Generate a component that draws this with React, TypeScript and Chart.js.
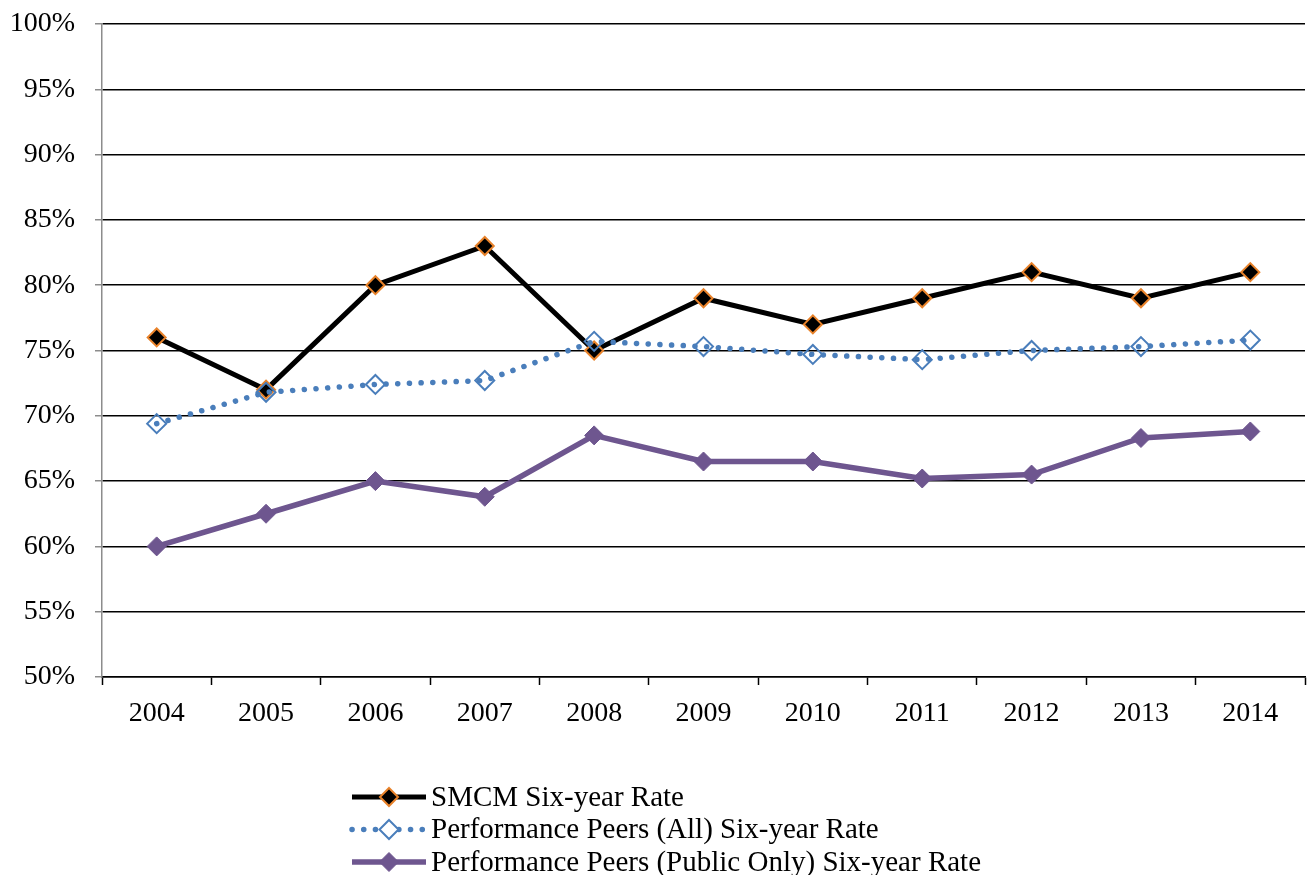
import React, { useEffect, useRef } from "react";
import { Chart, registerables } from "chart.js";

Chart.register(...registerables);

const years = ["2004", "2005", "2006", "2007", "2008", "2009", "2010", "2011", "2012", "2013", "2014"];
const smcmRate = [76, 72, 80, 83, 75, 79, 77, 79, 81, 79, 81];
const peersAllRate = [69.4, 71.8, 72.4, 72.7, 75.7, 75.3, 74.7, 74.3, 75.0, 75.3, 75.8];
const peersPublicRate = [60.0, 62.5, 65.0, 63.8, 68.5, 66.5, 66.5, 65.2, 65.5, 68.3, 68.8];

const FONT = "'Liberation Serif', 'Times New Roman', serif";
const BLUE = "#4A7EBB";
const ORANGE = "#E8822A";
const PURPLE = "#6E568F";

// Legend drawn beneath the plot: a line sample with its marker, then the label.
const lineLegend = {
  id: "lineLegend",
  afterDraw(chart: any) {
    const ctx = chart.ctx as CanvasRenderingContext2D;
    const x0 = 352;
    const sampleW = 74;
    const rowH = 32.5;
    const y0 = chart.chartArea.bottom + 120;
    ctx.save();
    ctx.font = `29px ${FONT}`;
    ctx.textBaseline = "middle";
    chart.data.datasets.forEach((ds: any, i: number) => {
      const y = y0 + i * rowH;
      ctx.save();
      ctx.strokeStyle = ds.borderColor;
      ctx.lineWidth = ds.borderWidth;
      ctx.lineCap = ds.borderCapStyle || "butt";
      ctx.setLineDash(ds.borderDash || []);
      ctx.beginPath();
      ctx.moveTo(x0, y);
      ctx.lineTo(x0 + sampleW, y);
      ctx.stroke();
      ctx.restore();
      const cx = x0 + sampleW / 2;
      const r = ds.pointRadius;
      ctx.beginPath();
      ctx.moveTo(cx, y - r);
      ctx.lineTo(cx + r, y);
      ctx.lineTo(cx, y + r);
      ctx.lineTo(cx - r, y);
      ctx.closePath();
      ctx.fillStyle =
        ds.pointBackgroundColor && ds.pointBackgroundColor !== "transparent"
          ? ds.pointBackgroundColor
          : "#ffffff";
      ctx.fill();
      ctx.lineWidth = ds.pointBorderWidth;
      ctx.strokeStyle = ds.pointBorderColor;
      ctx.stroke();
      ctx.fillStyle = "#000000";
      ctx.textAlign = "left";
      ctx.fillText(ds.label, x0 + sampleW + 5, y + 1);
    });
    ctx.restore();
  },
};

// Keep tick-label overhang from widening the margins around the plot.
const noLabelPadding = (scale: any) => {
  scale.paddingTop = 0;
  scale.paddingBottom = 0;
  scale.paddingLeft = 0;
  scale.paddingRight = 0;
};

export default function App() {
  const canvasRef = useRef<HTMLCanvasElement | null>(null);

  useEffect(() => {
    document.body.style.margin = "0";
    const canvas = canvasRef.current;
    if (!canvas) return;
    const chart = new Chart(canvas, {
      type: "line",
      data: {
        labels: years,
        datasets: [
          {
            label: "SMCM Six-year Rate",
            data: smcmRate,
            borderColor: "#000000",
            borderWidth: 5,
            pointStyle: "rectRot",
            pointRadius: 9,
            pointBackgroundColor: "#000000",
            pointBorderColor: ORANGE,
            pointBorderWidth: 2,
            tension: 0,
            order: 1,
          },
          {
            label: "Performance Peers (All) Six-year Rate",
            data: peersAllRate,
            borderColor: BLUE,
            borderWidth: 5.5,
            borderDash: [0.1, 11.6],
            borderCapStyle: "round",
            pointStyle: "rectRot",
            pointRadius: 9.5,
            pointBackgroundColor: "transparent",
            pointBorderColor: BLUE,
            pointBorderWidth: 2,
            tension: 0,
            order: 0,
          },
          {
            label: "Performance Peers (Public Only) Six-year Rate",
            data: peersPublicRate,
            borderColor: PURPLE,
            borderWidth: 5.5,
            pointStyle: "rectRot",
            pointRadius: 9.5,
            pointBackgroundColor: PURPLE,
            pointBorderColor: PURPLE,
            pointBorderWidth: 1,
            tension: 0,
            order: 2,
          },
        ],
      },
      options: {
        animation: false,
        responsive: false,
        layout: { autoPadding: false, padding: { top: 24, right: 2, left: 0, bottom: 0 } },
        plugins: {
          legend: { display: false },
          tooltip: { enabled: false },
        },
        scales: {
          x: {
            offset: true,
            grid: {
              offset: true,
              drawOnChartArea: false,
              drawTicks: true,
              tickLength: 8,
              tickColor: "#000000",
              tickWidth: 1.5,
            },
            border: { color: "#000000", width: 1.5 },
            ticks: {
              color: "#000000",
              font: { family: FONT, size: 28 },
              padding: 12,
              maxRotation: 0,
            },
            afterFit(scale: any) {
              scale.height = 198;
              noLabelPadding(scale);
            },
          },
          y: {
            min: 50,
            max: 100,
            grid: {
              color: "#000000",
              lineWidth: 1.5,
              tickLength: 7,
              tickColor: "#8C8C8C",
              tickWidth: 1.5,
            },
            border: { color: "#8C8C8C", width: 1.5 },
            ticks: {
              stepSize: 5,
              color: "#000000",
              font: { family: FONT, size: 28 },
              padding: 20,
              callback: (v: any) => `${v}%`,
            },
            afterFit(scale: any) {
              scale.width = 102;
              noLabelPadding(scale);
            },
          },
        },
      },
      plugins: [lineLegend],
    });
    return () => chart.destroy();
  }, []);

  return (
    <div style={{ width: 1307, height: 875 }}>
      <canvas ref={canvasRef} width={1307} height={875} style={{ display: "block" }} />
    </div>
  );
}
